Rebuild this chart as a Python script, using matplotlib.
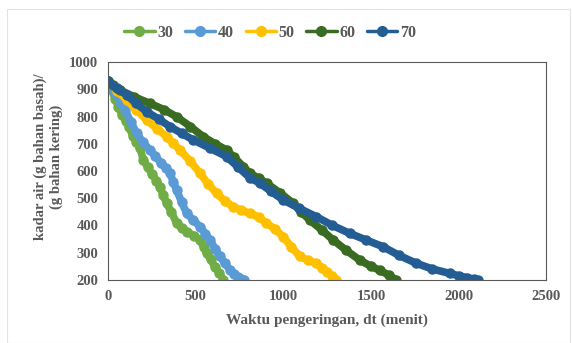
import numpy as np
import matplotlib
matplotlib.use("Agg")
import matplotlib.pyplot as plt

# data (waktu, kadar air)
x30 = [0, 10, 21, 40, 59, 80, 100, 120, 140, 160, 182, 201, 225, 250, 275, 296, 315, 334,
       360, 391, 420, 448, 490, 524, 545, 562, 585, 609, 635, 657]
y30 = [930, 915, 897, 865, 836, 805, 785, 760, 730, 705, 684, 640, 615, 590, 565, 542, 510, 482,
       450, 408, 390, 377, 362, 347, 320, 299, 275, 249, 225, 200]

x40 = [0, 20, 40, 70, 97, 130, 163, 200, 239, 270, 300, 330, 353, 372, 391, 420, 448, 485, 524,
       555, 581, 610, 638, 665, 695, 720, 740, 760, 775]
y40 = [930, 905, 885, 855, 824, 780, 738, 705, 677, 655, 630, 610, 592, 560, 530, 485, 445, 420,
       396, 370, 347, 315, 286, 262, 237, 220, 212, 205, 200]

x50 = [0, 50, 106, 160, 220, 280, 334, 370, 410, 470, 524, 570, 619, 665, 714, 760, 809, 860, 900,
       950, 998, 1045, 1093, 1140, 1188, 1220, 1250, 1280, 1302]
y50 = [930, 895, 861, 825, 787, 755, 726, 703, 677, 635, 592, 553, 518, 490, 469, 455, 445, 430,
       410, 388, 359, 322, 286, 272, 261, 245, 230, 215, 200]

x60 = [0, 30, 68, 150, 239, 320, 391, 470, 543, 610, 676, 720, 771, 809, 860, 904, 980, 1055,
       1100, 1150, 1220, 1283, 1360, 1435, 1500, 1550, 1600, 1644]
y60 = [930, 915, 897, 872, 848, 825, 799, 763, 726, 700, 677, 650, 616, 592, 573, 555, 520, 482,
       450, 420, 383, 347, 308, 273, 250, 235, 218, 200]

x70 = [0, 50, 106, 160, 220, 290, 353, 420, 486, 580, 676, 740, 809, 866, 930, 998, 1090, 1188,
       1280, 1378, 1470, 1568, 1660, 1758, 1850, 1948, 2000, 2050, 2085, 2110]
y70 = [930, 905, 879, 848, 818, 790, 763, 738, 714, 684, 653, 615, 575, 555, 525, 494, 463, 432,
       400, 371, 347, 322, 290, 261, 240, 224, 215, 208, 203, 200]

labels = ["30", "40", "50", "60", "70"]
colors = ["#70AD47", "#5B9BD5", "#FFC000", "#3A6B22", "#245D94"]

plt.rcParams['font.family'] = ['Liberation Serif', 'DejaVu Serif']
plt.rcParams['font.weight'] = 'bold'
txt = "#595959"

fig = plt.figure(figsize=(5.72, 3.43), dpi=100)
fig.patch.set_facecolor("white")
ax = fig.add_axes([0.189, 0.184, 0.766, 0.635])

series = [(x30, y30), (x40, y40), (x50, y50), (x60, y60), (x70, y70)]
for (xs, ys), lab, c in zip(series, labels, colors):
    ax.plot(xs, ys, color=c, lw=5.5, marker='o', ms=6.5, label=lab,
            solid_capstyle='round', solid_joinstyle='round')

ax.set_xlim(0, 2500)
ax.set_ylim(200, 1000)
ax.set_xticks(np.arange(0, 2501, 500))
ax.set_yticks(np.arange(200, 1001, 100))
ax.tick_params(length=0, labelsize=10.5, colors=txt, pad=7)
for s in ax.spines.values():
    s.set_color("#595959")
    s.set_linewidth(0.8)

ax.set_xlabel("Waktu pengeringan, dt (menit)", fontsize=11, color=txt, fontweight='bold',
              labelpad=8)
ax.set_ylabel("kadar air (g bahan basah)/\n(g bahan kering)", fontsize=10.5, color=txt,
              fontweight='bold', labelpad=6)
ax.yaxis.set_label_coords(-0.104, 0.565)

leg = fig.legend(loc='center', bbox_to_anchor=(0.472, 0.905), ncol=5, frameon=False,
                 fontsize=11.5, handlelength=1.9, columnspacing=0.75, handletextpad=0.15)
for t in leg.get_texts():
    t.set_color(txt)
for h in leg.legend_handles:
    h.set_linewidth(2.5)
    h.set_markersize(7)

fig.add_artist(plt.Rectangle((0.012, 0.0), 0.985, 0.975, transform=fig.transFigure,
                             fill=False, edgecolor="#E3E3E3", lw=0.8))

fig.savefig("out.png", dpi=100)
